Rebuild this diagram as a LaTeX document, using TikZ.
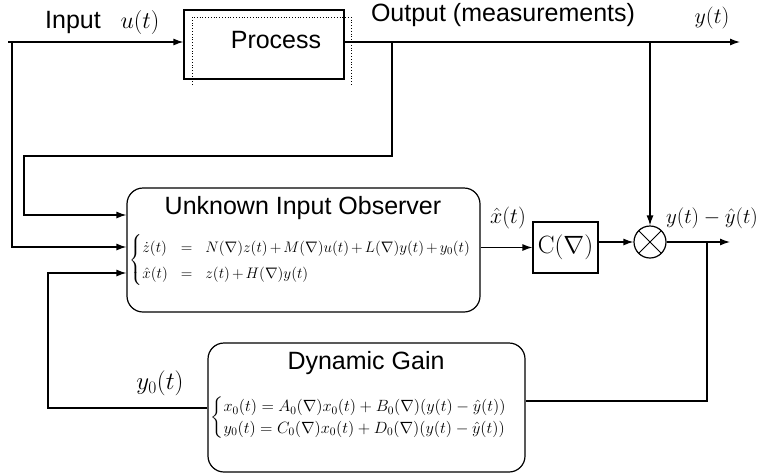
\RequirePackage{fix-cm}
\documentclass[tikz,border=0pt]{standalone}
\usepackage{amsmath}
\usepackage[no-math]{fontspec}
\setmainfont{Liberation Sans}
\usetikzlibrary{arrows.meta}
\begin{document}
\begin{tikzpicture}[x=1pt,y=-1pt, line width=1.2pt, >={Latex[length=10pt,width=7pt]},
  box/.style={draw, rectangle, inner sep=0pt},
  rbox/.style={draw, rounded corners=16pt, inner sep=0pt},
  sf/.style={font=\fontsize{25}{30}\selectfont, inner sep=0pt},
  mlab/.style={font=\fontsize{22}{26}\selectfont, inner sep=0pt},
  eq/.style={inner sep=0pt, anchor=west}]
\useasboundingbox (0,0) rectangle (758,475);
% blocks
\node[box, minimum width=160pt, minimum height=69pt] (P) at (264,44.5) {};
\draw[dotted, line width=0.8pt] (192,85) -- (192,17) -- (351,17) -- (351,85);
\node[sf] (Pt) at (276,40) {Process};
\node[rbox, minimum width=353pt, minimum height=124pt] (U) at (303.5,250) {};
\node[sf] (Ut) at (303,208) {Unknown Input Observer};
\node[eq, font=\fontsize{15.2}{18}\selectfont] (Ue) at (129,260) {\renewcommand\arraystretch{1.45}$\medmuskip=2.5mu\left\{\begin{array}{@{}l@{\hspace{13pt}}c@{\hspace{13pt}}l@{}}
\dot{z}(t) & = & N(\nabla)z(t)+M(\nabla)u(t)+L(\nabla)y(t)+y_0(t)\\
\hat{x}(t) & = & z(t)+H(\nabla)y(t)
\end{array}\right.$};
\node[box, minimum width=65pt, minimum height=51pt, font=\fontsize{25}{30}\selectfont] (C) at (565.5,247.5) {$\mathrm{C}(\nabla)$};
\node[circle, draw, minimum size=32pt, inner sep=0pt,
  path picture={\draw[line width=1pt] (path picture bounding box.north west) -- (path picture bounding box.south east)
     (path picture bounding box.north east) -- (path picture bounding box.south west);}] (S) at (650,242) {};
\node[rbox, minimum width=317pt, minimum height=129pt] (G) at (366.5,407.5) {};
\node[sf] (Gt) at (366,363) {Dynamic Gain};
\node[eq, font=\fontsize{16.3}{19.5}\selectfont] (Ge) at (210,418) {\renewcommand\arraystretch{1.1}$\left\{\begin{array}{@{}l@{}}
x_0(t)=A_0(\nabla)x_0(t)+B_0(\nabla)(y(t)-\hat{y}(t))\\
y_0(t)=C_0(\nabla)x_0(t)+D_0(\nabla)(y(t)-\hat{y}(t))
\end{array}\right.$};
% labels
\node[sf] (lin) at (73,22) {Input};
\node[mlab, font=\fontsize{24}{28}\selectfont] (lu) at (140,22) {$u(t)$};
\node[sf] (lout) at (503,15) {Output (measurements)};
\node[mlab] (ly) at (712,18) {$y(t)$};
\node[mlab] (lx) at (508,218) {$\hat{x}(t)$};
\node[mlab, font=\fontsize{21}{25}\selectfont] (le) at (712,218) {$y(t)-\hat{y}(t)$};
\node[mlab, font=\fontsize{25}{29}\selectfont] (ly0) at (160,383) {$y_0(t)$};
% coordinates
\coordinate (in) at (8,42);
\coordinate (j1) at (12,42);
\coordinate (j2) at (392,42);
\coordinate (j3) at (650,42);
\coordinate (out) at (740,42);
\coordinate (a1) at (392,156);
\coordinate (a2) at (24,156);
\coordinate (a3) at (24,215);
\coordinate (b1) at (12,247);
\coordinate (d1) at (48,408);
\coordinate (d2) at (48,273);
\coordinate (so) at (730,242);
\coordinate (k1) at (707,242);
\coordinate (k2) at (707,401);
% connectors
\draw[->] (in) -- (P.west |- in);
\draw[->] (P.east |- in) -- (out);
\draw[->] (j2) -- (a1) -- (a2) -- (a3) -- (U.west |- a3);
\draw[->] (j1) -- (b1) -- (U.west |- b1);
\draw[->] (G.west |- d1) -- (d1) -- (d2) -- (U.west |- d2);
\draw[->] (j3) -- (S.north);
\draw[->] (U.east |- C.west) -- (C.west);
\draw[->] (C.east |- S.west) -- (S.west);
\draw[->] (S.east) -- (so);
\draw (k1) -- (k2) -- (G.east |- k2);
\end{tikzpicture}
\end{document}
